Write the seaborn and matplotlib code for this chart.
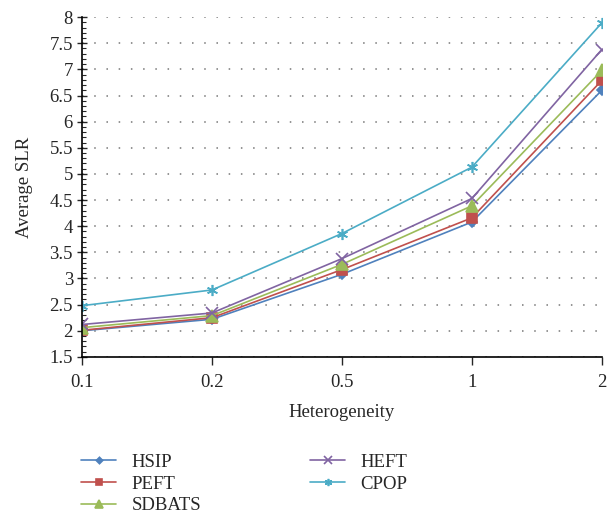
import matplotlib
matplotlib.use("Agg")
import matplotlib.pyplot as plt
from matplotlib.ticker import MultipleLocator
import seaborn as sns
import pandas as pd

heterogeneity = ["0.1", "0.2", "0.5", "1", "2"]
hsip = [2.00, 2.22, 3.08, 4.08, 6.60]
peft = [2.01, 2.25, 3.17, 4.16, 6.79]
sdbats = [2.06, 2.29, 3.27, 4.39, 6.98]
heft = [2.12, 2.34, 3.38, 4.53, 7.38]
cpop = [2.48, 2.78, 3.86, 5.13, 7.89]

series = {"HSIP": hsip, "PEFT": peft, "SDBATS": sdbats, "HEFT": heft, "CPOP": cpop}
colors = ["#4F81BD", "#C0504D", "#9BBB59", "#8064A2", "#4BACC6"]
marks = ["D", "s", "^", "x", (6, 2, 0)]
msizes = [5, 7, 8, 8, 8]

rows = []
for name, vals in series.items():
    for i, v in enumerate(vals):
        rows.append({"pos": i, "slr": v, "alg": name})
df = pd.DataFrame(rows)

sns.set_style("white")
plt.rcParams["font.family"] = ["Liberation Serif", "DejaVu Serif"]

fig = plt.figure(figsize=(6.13, 5.18), dpi=100)
ax = fig.add_axes([0.1338, 0.311, 0.848, 0.656])

for (name, vals), c, m, ms in zip(series.items(), colors, marks, msizes):
    sub = df[df["alg"] == name]
    sns.lineplot(data=sub, x="pos", y="slr", ax=ax, color=c, marker=m,
                 markersize=ms, markeredgecolor=c, markeredgewidth=1.2,
                 linewidth=1.2, label=name)

ax.set_xlim(0, 4)
ax.set_ylim(1.5, 8)
ax.set_xticks(range(len(heterogeneity)))
ax.set_xticklabels(heterogeneity)
ax.yaxis.set_major_locator(MultipleLocator(0.5))
ax.yaxis.set_minor_locator(MultipleLocator(0.1))
ax.set_yticklabels([f"{v:g}" for v in ax.get_yticks()])
ax.tick_params(axis="x", which="major", direction="out", length=6, width=1, labelsize=13.5, pad=6)
ax.tick_params(axis="y", which="major", direction="inout", length=7, width=1, labelsize=13.5, pad=3, left=True)
ax.tick_params(axis="y", which="minor", direction="in", length=3, width=0.8, left=True)
ax.tick_params(axis="x", bottom=True)

ax.grid(axis="y", color="#777777", linestyle=(0, (1, 7)), linewidth=1.1)
ax.grid(axis="x", visible=False)
for s in ["top", "right"]:
    ax.spines[s].set_visible(False)
for s in ["left", "bottom"]:
    ax.spines[s].set_color("black")
    ax.spines[s].set_linewidth(1.2)

ax.set_xlabel("Heterogeneity", fontsize=13.5, labelpad=10)
ax.set_ylabel("Average SLR", fontsize=13.5, labelpad=12)

leg = ax.legend(loc="upper left", bbox_to_anchor=(-0.035, -0.235), ncol=2, frameon=False,
                fontsize=13.5, handlelength=1.9, columnspacing=5.8, labelspacing=0.25,
                handletextpad=0.8, markerscale=0.65)

fig.savefig("out.png", dpi=100)
